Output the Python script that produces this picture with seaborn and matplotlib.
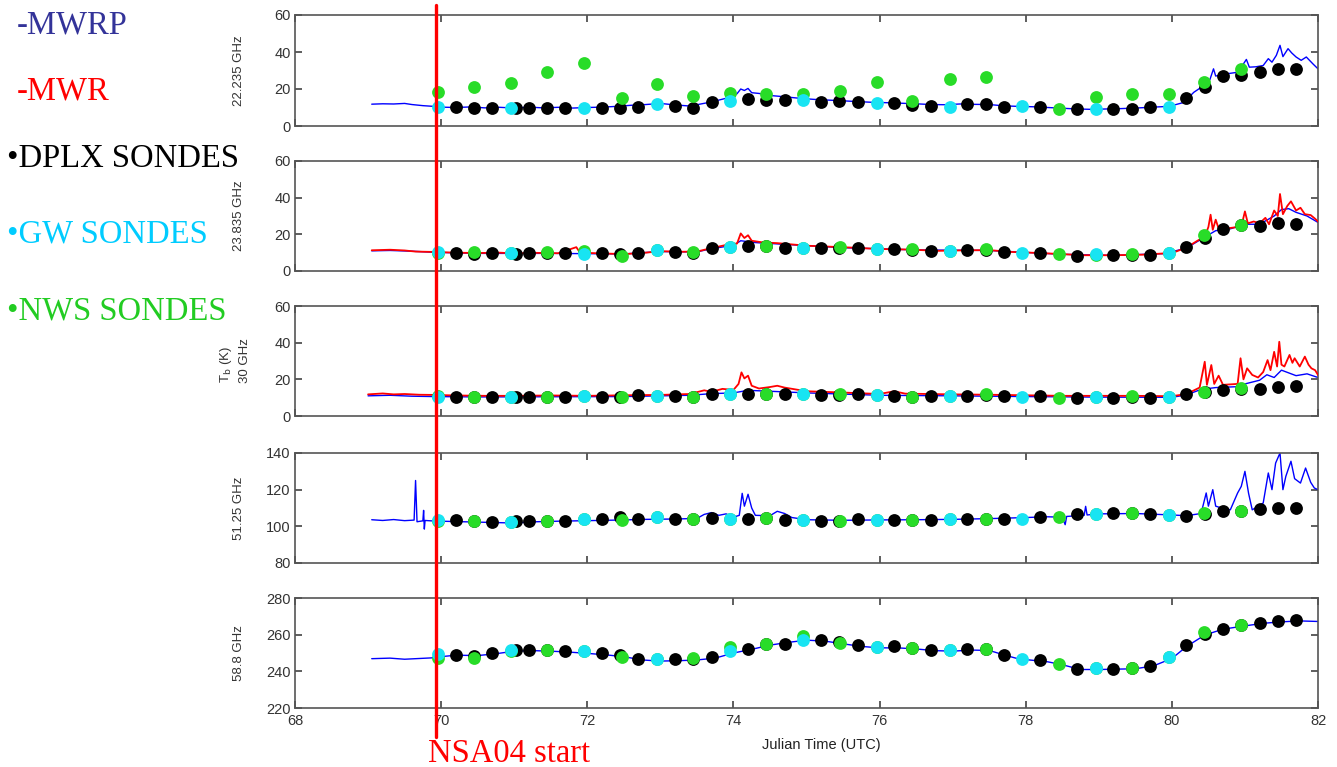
import matplotlib
matplotlib.use('Agg')
import matplotlib.pyplot as plt
import matplotlib.transforms as mtransforms
from matplotlib.lines import Line2D
import seaborn as sns

# ---------------- data ----------------
start_time = 69.93

dplx_t = [70.20, 70.45, 70.70, 71.02, 71.20, 71.45, 71.70, 72.20, 72.45, 72.70, 73.20, 73.45, 73.70,
          74.20, 74.45, 74.70, 75.20, 75.45, 75.70, 76.20, 76.45, 76.70, 77.20, 77.45, 77.70, 78.20,
          78.70, 79.20, 79.45, 79.70, 80.20, 80.45, 80.70, 80.95, 81.20, 81.45, 81.70]
nws_t = [69.96, 70.45, 70.95, 71.45, 71.96, 72.47, 72.95, 73.45, 73.95, 74.45, 74.95, 75.46, 75.96,
         76.45, 76.96, 77.46, 78.46, 78.96, 79.46, 79.96, 80.44, 80.94]
gw_t = [69.96, 70.95, 71.96, 72.95, 73.95, 74.95, 75.96, 76.96, 77.95, 78.96, 79.96]

# Panel 1: 22.235 GHz
p1_mwrp_t = [69.05, 69.2, 69.35, 69.5, 69.6, 69.75, 69.9, 70.0, 70.2, 70.4, 70.6, 70.8, 71.0, 71.2, 71.4,
             71.6, 71.8, 72.0, 72.2, 72.4, 72.6, 72.8, 73.0, 73.2, 73.4, 73.5, 73.7, 73.9, 74.0, 74.05,
             74.1, 74.15, 74.2, 74.25, 74.35, 74.5, 74.7, 74.9, 75.1, 75.3, 75.5, 75.7, 75.9, 76.1, 76.3,
             76.5, 76.7, 76.9, 77.1, 77.3, 77.5, 77.7, 77.9, 78.1, 78.3, 78.5, 78.7, 78.9, 79.1, 79.3,
             79.5, 79.7, 79.9, 80.0, 80.16, 80.3, 80.45, 80.52, 80.57, 80.6, 80.75, 80.89, 80.95, 80.98,
             81.02, 81.06, 81.15, 81.25, 81.32, 81.37, 81.43, 81.48, 81.52, 81.59, 81.64, 81.7, 81.77,
             81.84, 81.93, 82.0]
p1_mwrp_v = [11.8, 12.0, 11.9, 12.2, 11.6, 11.0, 10.6, 10.2, 10.0, 10.3, 9.8, 10.1, 9.7, 10.2, 9.8,
             10.1, 9.7, 10.0, 10.2, 10.6, 11.2, 11.6, 12.2, 11.4, 10.8, 11.5, 13.0, 15.0, 15.8, 17.5,
             20.0, 19.2, 20.3, 18.0, 17.6, 16.5, 15.8, 15.0, 14.4, 14.0, 13.6, 13.2, 12.8, 12.6, 12.3,
             12.0, 11.6, 11.5, 11.9, 11.7, 11.6, 10.9, 10.6, 10.4, 10.0, 9.6, 9.2, 9.0, 9.2, 9.4,
             9.7, 10.1, 10.5, 11.0, 12.7, 18.2, 22.2, 25.0, 30.9, 27.0, 28.2, 29.0, 30.5, 33.6,
             36.0, 31.8, 32.0, 32.7, 36.4, 34.5, 38.2, 43.6, 37.5, 41.8, 39.5, 37.3, 35.5,
             37.3, 33.6, 30.9]
p1_dplx = [10.1, 9.5, 9.5, 9.5, 9.5, 9.5, 9.5, 9.5, 9.5, 10.5, 11.0, 9.5, 13.0, 14.6, 14.0, 14.1, 12.8,
           13.5, 13.2, 12.3, 11.4, 10.8, 11.9, 11.9, 10.5, 10.5, 9.0, 9.0, 9.0, 10.5, 15.3, 21.3, 27.0,
           27.6, 29.4, 30.6, 30.6]
p1_nws = [18.2, 20.9, 23.1, 29.4, 34.2, 15.0, 22.5, 16.2, 18.0, 17.1, 17.3, 19.1, 24.0, 13.5, 25.2,
          26.5, 9.2, 15.9, 17.3, 17.3, 23.6, 30.8]
p1_gw = [10.5, 9.5, 9.5, 11.7, 13.5, 14.1, 12.3, 10.5, 10.8, 9.4, 10.5]

# Panel 2: 23.835 GHz
p2_mwrp_t = [69.05, 69.3, 69.6, 69.9, 70.5, 71.5, 72.5, 73.0, 73.5, 73.7, 74.0, 74.1, 74.3, 74.8, 75.5,
             76.5, 77.5, 78.5, 79.2, 79.9, 80.2, 80.45, 80.6, 80.8, 81.0, 81.2, 81.4, 81.5, 81.6, 81.7,
             81.85, 82.0]
p2_mwrp_v = [11.0, 11.2, 10.8, 10.2, 9.6, 9.6, 9.3, 10.6, 10.4, 12.2, 14.0, 16.5, 15.5, 14.3, 12.7,
             11.5, 11.2, 9.1, 8.5, 9.5, 12.5, 18.5, 22.0, 23.0, 25.5, 25.5, 30.0, 33.5, 34.0, 32.0,
             30.0, 26.5]
p2_mwr_t = [69.05, 69.3, 69.5, 69.65, 69.9, 70.2, 70.5, 70.8, 71.0, 71.3, 71.6, 71.85, 71.9, 72.2, 72.5,
            72.8, 73.0, 73.3, 73.5, 73.7, 73.9, 74.05, 74.1, 74.15, 74.2, 74.25, 74.4, 74.6, 74.8, 75.0,
            75.3, 75.6, 76.0, 76.4, 76.8, 77.2, 77.5, 77.8, 78.2, 78.5, 78.8, 79.2, 79.6, 79.9, 80.05,
            80.2, 80.35, 80.45, 80.5, 80.53, 80.56, 80.6, 80.65, 80.75, 80.9, 80.97, 81.0, 81.04, 81.12,
            81.2, 81.28, 81.33, 81.4, 81.45, 81.48, 81.52, 81.58, 81.63, 81.7, 81.76, 81.82, 81.9,
            81.96, 82.0]
p2_mwr_v = [11.3, 11.6, 11.2, 10.6, 10.4, 10.0, 9.8, 10.0, 9.6, 9.9, 9.7, 13.0, 10.0, 9.6, 9.2,
            10.0, 10.8, 10.5, 10.6, 12.5, 14.2, 15.0, 20.5, 18.0, 19.5, 16.5, 15.6, 15.2, 14.5, 13.8,
            13.3, 12.8, 12.0, 11.7, 11.0, 11.3, 11.4, 10.4, 9.8, 9.2, 8.6, 8.6, 8.9, 9.6, 10.5,
            12.8, 16.5, 18.8, 24.0, 30.7, 22.5, 28.0, 22.0, 23.2, 24.0, 27.5, 32.5, 26.0, 27.0,
            26.0, 29.0, 25.5, 33.0, 30.0, 42.0, 31.0, 35.5, 38.0, 33.0, 34.5, 31.0, 30.5,
            28.5, 27.0]
p2_dplx = [9.7, 9.3, 9.7, 9.3, 9.7, 9.7, 9.7, 9.7, 9.1, 10.0, 10.6, 9.7, 12.8, 13.7, 13.5, 12.8, 12.4,
           12.8, 12.8, 11.9, 11.7, 11.0, 11.5, 11.7, 10.2, 10.0, 8.2, 8.8, 8.9, 8.8, 13.0, 18.0, 23.0,
           24.9, 24.3, 26.1, 25.8]
p2_nws = [10.0, 10.2, 10.0, 10.2, 10.8, 8.2, 11.5, 10.2, 13.3, 13.9, 12.4, 13.0, 12.0, 11.9, 11.0,
          11.9, 9.1, 9.0, 9.1, 10.0, 19.4, 24.9]
p2_gw = [10.2, 10.0, 9.1, 11.5, 13.3, 12.4, 12.1, 11.0, 10.0, 9.1, 10.0]

# Panel 3: 30 GHz
p3_mwrp_t = [69.0, 69.3, 69.6, 69.9, 70.5, 71.5, 72.5, 73.4, 73.7, 74.0, 74.2, 74.5, 75.0, 76.0, 77.0,
             78.0, 79.0, 80.0, 80.2, 80.4, 80.6, 80.9, 81.0, 81.2, 81.3, 81.4, 81.5, 81.6, 81.7, 81.85,
             82.0]
p3_mwrp_v = [11.0, 11.3, 10.8, 10.6, 10.4, 10.5, 10.6, 11.3, 12.2, 12.6, 14.0, 13.5, 12.6, 11.3, 11.0,
             10.6, 10.3, 10.2, 11.5, 14.5, 15.5, 16.0, 17.5, 19.5, 22.5, 21.0, 25.0, 23.5, 22.0, 23.0,
             21.0]
p3_mwr_t = [69.0, 69.2, 69.35, 69.5, 69.7, 69.9, 70.2, 70.6, 71.0, 71.5, 72.0, 72.5, 73.0, 73.4, 73.6,
            73.7, 73.85, 74.0, 74.07, 74.11, 74.15, 74.2, 74.25, 74.35, 74.5, 74.6, 74.7, 74.85, 75.0,
            75.5, 76.0, 76.2, 76.35, 77.0, 77.5, 78.0, 78.5, 79.0, 79.5, 80.0, 80.2, 80.38, 80.45,
            80.48, 80.54, 80.58, 80.64, 80.7, 80.9, 80.94, 80.98, 81.03, 81.1, 81.18, 81.25, 81.31,
            81.35, 81.4, 81.44, 81.47, 81.5, 81.54, 81.61, 81.65, 81.68, 81.75, 81.82, 81.87, 81.91,
            81.96, 82.0]
p3_mwr_v = [11.8, 12.3, 11.8, 12.0, 11.6, 11.5, 11.2, 11.0, 11.0, 11.2, 11.0, 11.3, 11.5, 12.0, 14.0,
            13.2, 14.8, 14.2, 17.5, 23.8, 20.5, 22.0, 16.5, 15.0, 15.8, 16.5, 15.5, 14.5, 13.5,
            12.8, 12.0, 13.5, 12.2, 11.8, 11.6, 11.3, 11.0, 11.0, 11.0, 10.8, 12.0, 15.5, 29.6,
            17.0, 27.8, 17.5, 22.0, 17.0, 17.5, 31.5, 20.0, 26.0, 22.4, 21.0, 24.0, 30.5,
            25.0, 35.0, 27.0, 40.5, 28.0, 27.0, 33.3, 29.0, 31.5, 27.0, 32.4, 28.0, 26.0,
            25.0, 22.4]
p3_dplx = [10.2, 10.2, 10.2, 10.2, 10.2, 10.2, 10.2, 10.2, 10.2, 11.5, 11.1, 10.5, 12.0, 11.8, 12.0,
           11.8, 11.5, 11.6, 11.8, 10.9, 10.6, 10.9, 10.9, 11.5, 10.9, 10.9, 10.0, 10.0, 10.5, 9.6,
           11.8, 13.0, 14.2, 14.8, 14.7, 15.6, 16.5]
p3_nws = [10.8, 10.2, 10.5, 10.2, 10.8, 10.2, 10.9, 10.5, 11.8, 12.2, 11.8, 11.8, 11.5, 10.5, 10.9,
          11.8, 10.0, 10.2, 11.1, 10.2, 13.3, 15.1]
p3_gw = [10.5, 10.5, 10.9, 10.9, 11.8, 11.8, 11.5, 10.9, 10.5, 10.2, 10.2]

# Panel 4: 51.25 GHz
p4_mwrp_t = [69.05, 69.2, 69.35, 69.5, 69.63, 69.65, 69.67, 69.75, 69.76, 69.77, 69.78, 69.9, 70.2,
             70.5, 70.8, 71.0, 71.3, 71.6, 72.0, 72.4, 72.8, 73.2, 73.5, 73.6, 73.7, 73.8, 73.9, 74.0,
             74.08, 74.12, 74.15, 74.2, 74.25, 74.3, 74.5, 74.6, 74.7, 74.8, 75.0, 75.5, 76.0, 76.5,
             77.0, 77.5, 78.0, 78.3, 78.5, 78.54, 78.56, 78.8, 78.82, 78.84, 79.0, 79.5, 80.0, 80.2,
             80.4, 80.47, 80.5, 80.56, 80.6, 80.68, 80.8, 80.9, 80.95, 81.0, 81.05, 81.1, 81.25,
             81.32, 81.37, 81.42, 81.48, 81.52, 81.56, 81.63, 81.68, 81.76, 81.83, 81.9, 81.95, 82.0]
p4_mwrp_v = [103.6, 103.2, 103.7, 103.1, 103.4, 125.0, 102.5, 103.0, 108.7, 98.5, 103.2, 102.9, 102.6,
             102.3, 102.0, 101.8, 102.5, 102.8, 103.1, 103.4, 103.8, 104.0, 104.3, 106.5, 107.5, 106.0,
             106.8, 105.0, 106.0, 118.0, 111.0, 117.5, 110.0, 106.0, 105.8, 108.2, 107.0, 104.8, 103.6,
             103.3, 103.5, 103.6, 103.8, 104.2, 104.8, 105.2, 105.0, 100.9, 105.4, 106.0, 110.9, 106.2,
             106.8, 107.0, 106.2, 105.8, 107.0, 118.2, 111.0, 120.0, 111.0, 110.0, 109.0, 118.2, 121.8,
             130.0, 118.0, 109.0, 112.7, 129.1, 120.0, 134.5, 140.0, 120.0, 127.3, 135.5, 126.0, 123.6,
             131.8, 124.0, 120.9, 120.0]
p4_dplx = [103.3, 103.0, 102.4, 103.1, 103.1, 103.0, 103.1, 104.0, 104.9, 104.2, 104.2, 104.0, 104.5,
           104.2, 104.3, 103.6, 103.1, 103.0, 104.0, 103.6, 103.5, 103.6, 104.2, 104.0, 104.2, 105.1,
           106.9, 107.3, 107.1, 106.9, 105.5, 107.0, 108.2, 108.3, 109.5, 110.0, 110.0]
p4_nws = [102.8, 103.1, 102.4, 103.1, 104.0, 103.6, 104.9, 104.2, 104.2, 104.5, 103.3, 103.1, 103.3,
          103.6, 104.2, 104.2, 105.1, 106.9, 107.3, 106.4, 107.3, 108.5]
p4_gw = [103.3, 102.4, 104.0, 104.9, 104.2, 103.3, 103.3, 104.2, 104.2, 106.9, 106.4]

# Panel 5: 58.8 GHz
p5_mwrp_t = [69.05, 69.3, 69.5, 69.7, 69.9, 70.0, 70.2, 70.5, 70.75, 71.0, 71.25, 71.5, 71.75, 72.0,
             72.25, 72.5, 72.75, 73.0, 73.25, 73.5, 73.75, 74.0, 74.25, 74.5, 74.75, 75.0, 75.25, 75.5,
             75.75, 76.0, 76.25, 76.5, 76.75, 77.0, 77.25, 77.5, 77.7, 77.9, 78.1, 78.3, 78.5, 78.75,
             79.0, 79.25, 79.5, 79.75, 80.0, 80.2, 80.45, 80.7, 81.0, 81.25, 81.5, 81.75, 82.0]
p5_mwrp_v = [246.9, 247.2, 246.6, 247.0, 247.4, 248.0, 248.8, 248.6, 249.6, 251.0, 251.3, 251.0, 250.5,
             249.8, 249.0, 248.0, 246.2, 245.6, 245.8, 246.2, 247.2, 250.0, 252.0, 254.3, 255.8, 257.0,
             256.5, 255.0, 253.6, 252.8, 252.8, 252.2, 251.3, 251.0, 251.6, 251.4, 249.0, 246.8, 246.0,
             245.2, 243.6, 241.0, 241.0, 241.2, 241.4, 243.0, 247.0, 253.5, 259.8, 263.0, 264.8, 266.2,
             267.0, 267.5, 267.2]
p5_dplx = [249.1, 248.6, 250.0, 251.5, 251.5, 251.5, 250.9, 250.0, 249.1, 246.9, 246.9, 247.0, 247.8,
           252.2, 254.8, 255.1, 257.3, 255.8, 254.2, 253.6, 252.5, 251.5, 252.2, 252.0, 249.1, 246.0,
           241.3, 241.3, 241.6, 243.1, 254.2, 260.5, 263.3, 265.2, 266.4, 267.6, 268.2]
p5_nws = [247.3, 247.3, 251.3, 251.8, 250.9, 247.8, 246.9, 247.3, 253.3, 255.1, 259.1, 255.5, 253.1,
          252.7, 251.5, 252.4, 244.2, 241.8, 241.8, 247.8, 261.3, 265.5]
p5_gw = [249.6, 251.5, 250.9, 246.9, 250.9, 257.3, 253.1, 251.5, 246.9, 241.8, 247.8]

panel_labels = ['22.235 GHz', '23.835 GHz', '30 GHz', '51.25 GHz', '58.8 GHz']
panel_ylims = [(0, 60), (0, 60), (0, 60), (80, 140), (220, 280)]
panel_yticks = [[0, 20, 40, 60], [0, 20, 40, 60], [0, 20, 40, 60],
                [80, 100, 120, 140], [220, 240, 260, 280]]
x_ticks = [68, 70, 72, 74, 76, 78, 80, 82]

# ---------------- styling ----------------
sns.set_style('ticks')
plt.rcParams['font.family'] = ['Liberation Sans', 'DejaVu Sans']

BLUE = '#0000ff'
RED = '#ff0000'
CYAN = '#18e4f2'
GREEN = '#28dc28'

W, H = 1337, 767
fig = plt.figure(figsize=(W / 100, H / 100), dpi=100)
fig.patch.set_facecolor('white')

left_px, right_px = 295, 1318
panel_px = [(15, 126), (161, 271), (306, 416), (453, 563), (598, 708)]
# right edge (pixel x) of each rotated y label
label_right_px = [245, 245, 251, 245, 245]

panels = [
    (p1_mwrp_t, p1_mwrp_v, None, None, p1_dplx, p1_nws, p1_gw),
    (p2_mwrp_t, p2_mwrp_v, p2_mwr_t, p2_mwr_v, p2_dplx, p2_nws, p2_gw),
    (p3_mwrp_t, p3_mwrp_v, p3_mwr_t, p3_mwr_v, p3_dplx, p3_nws, p3_gw),
    (p4_mwrp_t, p4_mwrp_v, None, None, p4_dplx, p4_nws, p4_gw),
    (p5_mwrp_t, p5_mwrp_v, None, None, p5_dplx, p5_nws, p5_gw),
]

axes = []
for i, ((top, bot), data) in enumerate(zip(panel_px, panels)):
    ax = fig.add_axes([left_px / W, 1 - bot / H, (right_px - left_px) / W, (bot - top) / H])
    axes.append(ax)
    mt, mv, rt, rv, dv, nv, gv = data
    sns.lineplot(x=mt, y=mv, ax=ax, color=BLUE, lw=1.0, estimator=None, sort=False,
                 legend=False, zorder=2)
    if rt is not None:
        sns.lineplot(x=rt, y=rv, ax=ax, color=RED, lw=1.3, estimator=None, sort=False,
                     legend=False, zorder=3)
    sns.scatterplot(x=dplx_t, y=dv, ax=ax, color='black', s=85, linewidth=0, legend=False, zorder=4)
    sns.scatterplot(x=nws_t, y=nv, ax=ax, color=GREEN, s=85, linewidth=0, legend=False, zorder=5)
    sns.scatterplot(x=gw_t, y=gv, ax=ax, color=CYAN, s=85, linewidth=0, legend=False, zorder=6)

    ax.set_xlim(68, 82)
    ax.set_ylim(*panel_ylims[i])
    ax.set_xticks(x_ticks)
    ax.set_yticks(panel_yticks[i])
    ax.tick_params(direction='in', top=True, right=True, length=5, width=1.1,
                   colors='#333333', labelsize=10.5, pad=4)
    ax.tick_params(axis='y', pad=3)
    if i < 4:
        ax.tick_params(labelbottom=False)
    for sp in ax.spines.values():
        sp.set_visible(True)
        sp.set_color('#555555')
        sp.set_linewidth(1.2)
    ax.set_xlabel('')
    ax.set_ylabel(panel_labels[i], fontsize=9.5, color='#333333')
    ax.yaxis.set_label_coords((label_right_px[i] - left_px) / (right_px - left_px), 0.5)

# T_b (K) label
fig.text(226 / W, 1 - 365 / H, r'T$_\mathrm{b}$ (K)', rotation=90, ha='center', va='center',
         fontsize=9.5, color='#333333')
# x label
fig.text(821 / W, 1 - 745 / H, 'Julian Time (UTC)', ha='center', va='center',
         fontsize=10.5, color='#222222')

# legend texts on the left
serif = ['Liberation Serif', 'DejaVu Serif']
legend_items = [
    ('-MWRP', '#333399', 17, 33),
    ('-MWR', RED, 17, 100),
    ('\u2022DPLX SONDES', 'black', 7, 167),
    ('\u2022GW SONDES', '#00ccff', 7, 243),
    ('\u2022NWS SONDES', '#22cc22', 7, 320),
]
for txt, col, xp, yp in legend_items:
    fig.text(xp / W, 1 - yp / H, txt, color=col, fontsize=23.5, family=serif,
             ha='left', va='baseline')

# NSA04 start marker line across all panels
blend = mtransforms.blended_transform_factory(axes[0].transData, fig.transFigure)
fig.add_artist(Line2D([start_time, start_time], [1 - 5 / H, 1 - 737 / H], transform=blend,
                      color=RED, lw=2.4, zorder=10))
fig.text(428 / W, 1 - 762 / H, 'NSA04 start', color=RED, fontsize=23.5, family=serif,
         ha='left', va='baseline')

fig.savefig('out.png', dpi=100, facecolor='white')
